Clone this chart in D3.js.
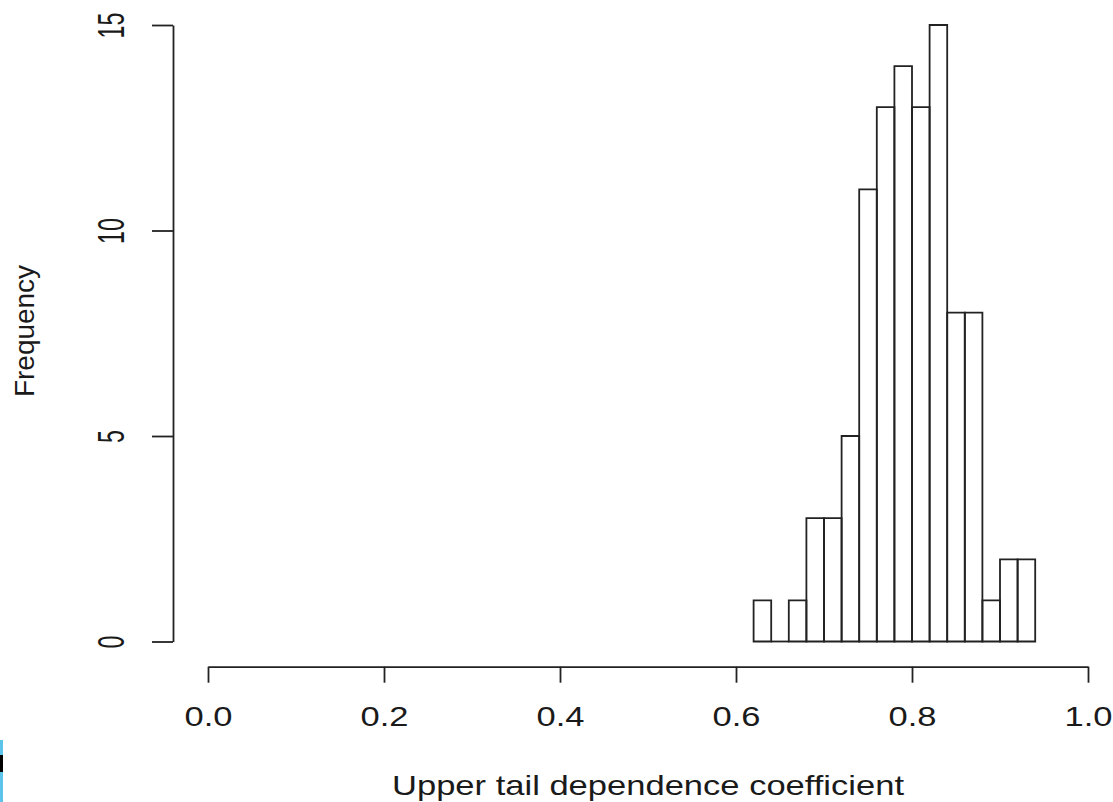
<!DOCTYPE html>
<html>
<head>
<meta charset="utf-8">
<script src="https://cdn.jsdelivr.net/npm/d3@7"></script>
<style>
  html, body { margin: 0; padding: 0; background: #fff; }
  svg { display: block; }
  text { font-family: "Liberation Sans", Arial, sans-serif; fill: #1a1a1a; }
</style>
</head>
<body>
<svg id="root"></svg>
<script>
// histogram bins (edges) and counts per bin
const breaks = [0.62, 0.64, 0.66, 0.68, 0.70, 0.72, 0.74, 0.76, 0.78, 0.80,
                0.82, 0.84, 0.86, 0.88, 0.90, 0.92, 0.94];
const counts = [1, 0, 1, 3, 3, 5, 11, 13, 14, 13, 15, 8, 8, 1, 2, 2];
const xTicks = [0.0, 0.2, 0.4, 0.6, 0.8, 1.0];
const yTicks = [0, 5, 10, 15];
const xLabel = "Upper tail dependence coefficient";
const yLabel = "Frequency";

const width = 1113;
const height = 802;
const ink = "#222";

const svg = d3.select("#root").attr("width", width).attr("height", height);

const x = d3.scaleLinear().domain([0, 1]).range([208, 1088]);
const y = d3.scaleLinear().domain([0, 15]).range([641.5, 25]);

const bins = counts.map((c, i) => ({ x0: breaks[i], x1: breaks[i + 1], n: c }));

// bars; an empty bin still leaves its bottom edge, like R's hist()
svg.append("g")
  .selectAll("path")
  .data(bins)
  .join("path")
  .attr("d", (d) => {
    const x0 = x(d.x0), x1 = x(d.x1), y0 = y(0), y1 = y(d.n);
    return d.n > 0
      ? `M${x0},${y0}V${y1}H${x1}V${y0}Z`
      : `M${x0},${y0}H${x1}`;
  })
  .attr("fill", "none")
  .attr("stroke", ink)
  .attr("stroke-width", 1.8);

// x axis
const gx = svg.append("g")
  .attr("transform", "translate(0,666.7)")
  .call(d3.axisBottom(x).tickValues(xTicks).tickFormat(d3.format(".1f"))
    .tickSize(16).tickSizeOuter(0));

gx.selectAll("text")
  .attr("y", null).attr("dy", null)
  .attr("transform", "translate(0,59.3)")
  .attr("font-size", 27)
  .attr("textLength", 48)
  .attr("lengthAdjust", "spacingAndGlyphs")
  .attr("text-anchor", "middle");

// y axis; labels are turned and stretched across the glyph height
const gy = svg.append("g")
  .attr("transform", "translate(173,0)")
  .call(d3.axisLeft(y).tickValues(yTicks).tickFormat(d3.format("d"))
    .tickSize(21).tickSizeOuter(0));

gy.selectAll("text")
  .attr("x", null).attr("dy", null)
  .attr("transform", "translate(-49,0) rotate(-90) scale(0.86,1.37)")
  .attr("font-size", 27)
  .attr("text-anchor", "middle");

[gx, gy].forEach((g) => {
  g.select(".domain").attr("stroke", ink).attr("stroke-width", 1.8);
  g.selectAll(".tick line").attr("stroke", ink).attr("stroke-width", 1.8);
  g.selectAll(".tick text").attr("fill", "#1a1a1a")
    .attr("font-family", "'Liberation Sans', Arial, sans-serif");
});

// axis titles
svg.append("text")
  .attr("x", 648)
  .attr("y", 795)
  .attr("text-anchor", "middle")
  .attr("font-size", 28)
  .attr("textLength", 512)
  .attr("lengthAdjust", "spacingAndGlyphs")
  .text(xLabel);

svg.append("text")
  .attr("transform", "translate(33.5,331) rotate(-90)")
  .attr("text-anchor", "middle")
  .attr("font-size", 28)
  .attr("textLength", 132)
  .attr("lengthAdjust", "spacingAndGlyphs")
  .text(yLabel);

// window edge strip at lower left
svg.append("rect").attr("x", 0).attr("y", 740).attr("width", 3).attr("height", 62).attr("fill", "#5cc4ea");
svg.append("rect").attr("x", 0).attr("y", 755).attr("width", 3).attr("height", 17).attr("fill", "#000");
</script>
</body>
</html>
